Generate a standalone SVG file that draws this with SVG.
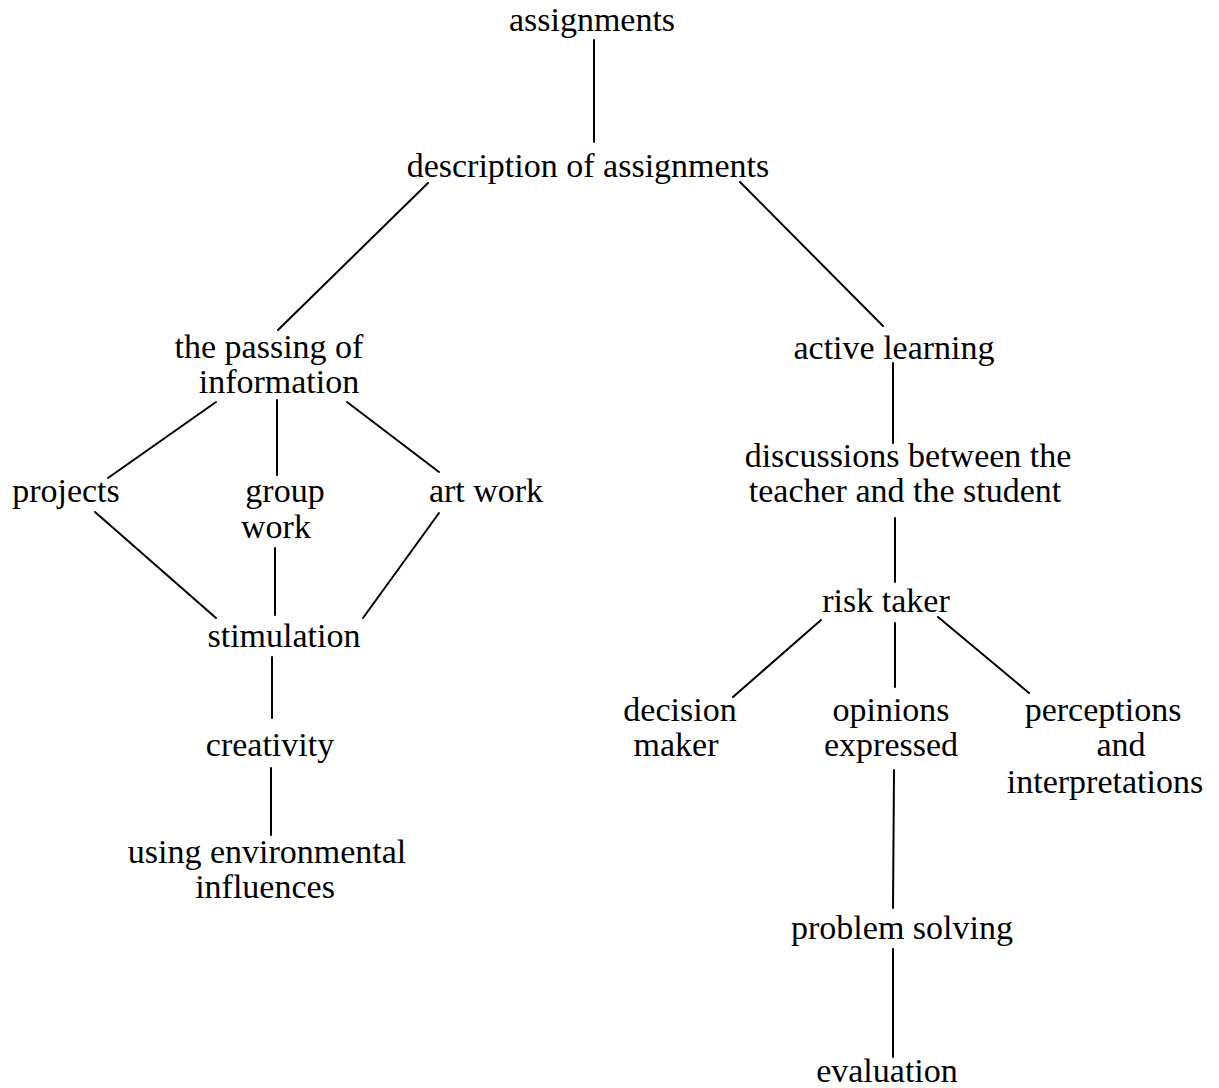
<svg xmlns="http://www.w3.org/2000/svg" width="1219" height="1088" viewBox="0 0 1219 1088">
  <style>
    text { font-family: "Liberation Serif", "Times New Roman", serif; font-size: 34px; fill: #000; text-anchor: middle; }
    .edge { stroke: #000; stroke-width: 2; fill: none; stroke-linecap: round; }
  </style>
  <rect width="1219" height="1088" fill="#fff"/>

  <!-- connectors -->
  <g id="connectors">
    <line class="edge" x1="594" y1="40" x2="594" y2="142"/>
    <line class="edge" x1="428" y1="183" x2="278" y2="330"/>
    <line class="edge" x1="740" y1="182" x2="883" y2="326"/>
    <line class="edge" x1="893" y1="363" x2="893" y2="443"/>
    <line class="edge" x1="216" y1="402" x2="108" y2="478"/>
    <line class="edge" x1="277" y1="400" x2="277" y2="475"/>
    <line class="edge" x1="347" y1="402" x2="439" y2="472"/>
    <line class="edge" x1="95" y1="512" x2="216" y2="618"/>
    <line class="edge" x1="275" y1="548" x2="275" y2="615"/>
    <line class="edge" x1="439" y1="513" x2="363" y2="618"/>
    <line class="edge" x1="272" y1="657" x2="272" y2="718"/>
    <line class="edge" x1="271" y1="768" x2="271" y2="835"/>
    <line class="edge" x1="895" y1="518" x2="895" y2="582"/>
    <line class="edge" x1="821" y1="620" x2="733" y2="697"/>
    <line class="edge" x1="895" y1="623" x2="895" y2="687"/>
    <line class="edge" x1="938" y1="617" x2="1029" y2="693"/>
    <line class="edge" x1="894" y1="770" x2="893" y2="908"/>
    <line class="edge" x1="893" y1="949" x2="893" y2="1057"/>
  </g>

  <!-- nodes -->
  <g id="assignments"><text x="592" y="31">assignments</text></g>
  <g id="description"><text x="588" y="177">description of assignments</text></g>
  <g id="passing-information">
    <text x="269" y="358">the passing of</text>
    <text x="279" y="393">information</text>
  </g>
  <g id="active-learning"><text x="894" y="359">active learning</text></g>
  <g id="discussions">
    <text x="908" y="467">discussions between the</text>
    <text x="905" y="502">teacher and the student</text>
  </g>
  <g id="projects"><text x="66" y="502">projects</text></g>
  <g id="group-work">
    <text x="285" y="502">group</text>
    <text x="276" y="538">work</text>
  </g>
  <g id="art-work"><text x="486" y="502">art work</text></g>
  <g id="stimulation"><text x="284" y="647">stimulation</text></g>
  <g id="creativity"><text x="270" y="756">creativity</text></g>
  <g id="environmental">
    <text x="267" y="863">using environmental</text>
    <text x="265" y="898">influences</text>
  </g>
  <g id="risk-taker"><text x="886" y="612">risk taker</text></g>
  <g id="decision-maker">
    <text x="680" y="721">decision</text>
    <text x="676" y="756">maker</text>
  </g>
  <g id="opinions-expressed">
    <text x="891" y="721">opinions</text>
    <text x="891" y="756">expressed</text>
  </g>
  <g id="perceptions">
    <text x="1103" y="721">perceptions</text>
    <text x="1121" y="756">and</text>
    <text x="1105" y="793">interpretations</text>
  </g>
  <g id="problem-solving"><text x="902" y="939">problem solving</text></g>
  <g id="evaluation"><text x="887" y="1082">evaluation</text></g>
</svg>
